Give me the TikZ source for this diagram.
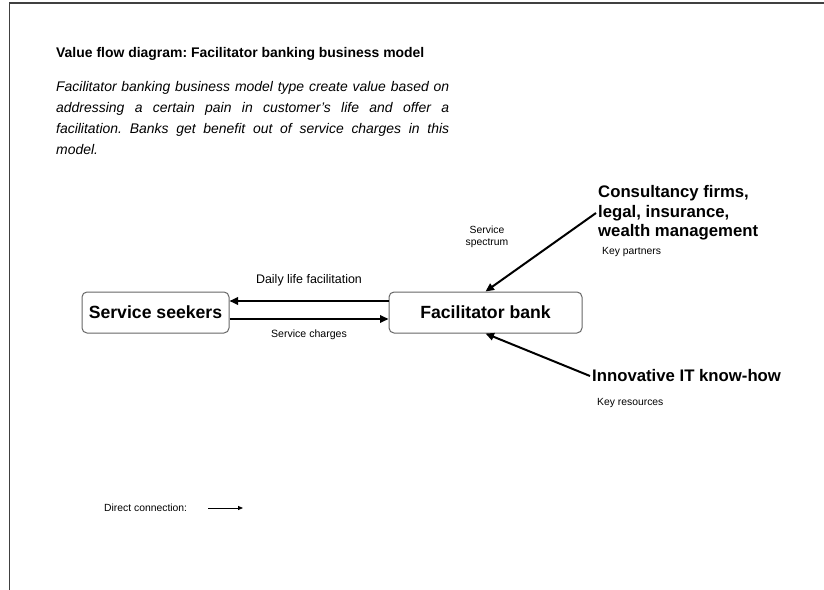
\documentclass[tikz,border=0pt]{standalone}
\usepackage{fontspec}
\setmainfont{Liberation Sans}
\usetikzlibrary{positioning, arrows.meta}
\frenchspacing

\begin{document}
\begin{tikzpicture}[
        x=1bp, y=-1bp,
        node distance=159bp,
        party/.style={
            rectangle, draw=black!60, line width=1bp, rounded corners=5bp,
            minimum height=41bp, inner sep=0pt, font=\bfseries\fontsize{17.7}{21}\selectfont
        },
        actor/.style={
            align=left, inner sep=2bp, font=\bfseries\fontsize{16.8}{19.5}\selectfont
        },
        lbl/.style={inner sep=0pt, font=\fontsize{10.4}{12.5}\selectfont},
        flow/.style={-{Triangle[length=8.5bp,width=7.5bp]}, line width=2bp},
        legend/.style={-{Triangle[length=5bp,width=4bp]}, line width=0.8bp}
    ]
        \useasboundingbox (0,0) rectangle (824,590);
        % Frame
        \draw[black!75, line width=1.5bp] (9.5,590) -- (9.5,3) -- (824,3);

        % Heading
        \node[anchor=base west, inner sep=0pt, font=\bfseries\fontsize{14}{17}\selectfont] (title) at (56,58) {Value flow diagram: Facilitator banking business model};
        \node[anchor=north west, inner sep=0pt, text width=393bp, align=justify, font=\itshape\fontsize{14}{21}\selectfont] (intro) at (56,81) {\hyphenpenalty=10000 Facilitator banking business model type create value based on\linebreak addressing a certain pain in customer's life and offer a\linebreak facilitation. Banks get benefit out of service charges in this\linebreak model.};

        % Parties
        \node[party, minimum width=147bp] (seekers) at (155.5,312.5) {Service seekers};
        \node[party, minimum width=193bp, right=of seekers] (bank) {Facilitator bank};

        % Partners and resources
        \node[actor, anchor=west] (partner) at (596,213) {Consultancy firms,\\legal, insurance,\\wealth management};
        \node[lbl, anchor=west] (kp) at (602,252) {Key partners};
        \node[actor, anchor=west] (itknow) at (590,376) {Innovative IT know-how};
        \node[lbl, anchor=west] (kr) at (597,403) {Key resources};
        \node[lbl, align=center] (spec) at (487,237) {Service\\spectrum};

        % Value flows
        \draw[flow] ([yshift=11.5bp]bank.west) -- ([yshift=11.5bp]seekers.east)
            node[midway, above=14bp, lbl, font=\fontsize{12.5}{15}\selectfont] (dlf) {Daily life facilitation};
        \draw[flow] ([yshift=-6.5bp]seekers.east) -- ([yshift=-6.5bp]bank.west)
            node[midway, below=10bp, lbl, font=\fontsize{10.6}{13}\selectfont] (sc) {Service charges};
        \draw[flow] (partner.west) -- (bank.north);
        \draw[flow] (itknow.west) -- (bank.south);

        % Legend
        \node[lbl, anchor=west] (leg) at (104,508) {Direct connection:};
        \coordinate (legA) at (208,508);
        \coordinate (legB) at (243,508);
        \draw[legend] (legA) -- (legB);
    \end{tikzpicture}
\end{document}
